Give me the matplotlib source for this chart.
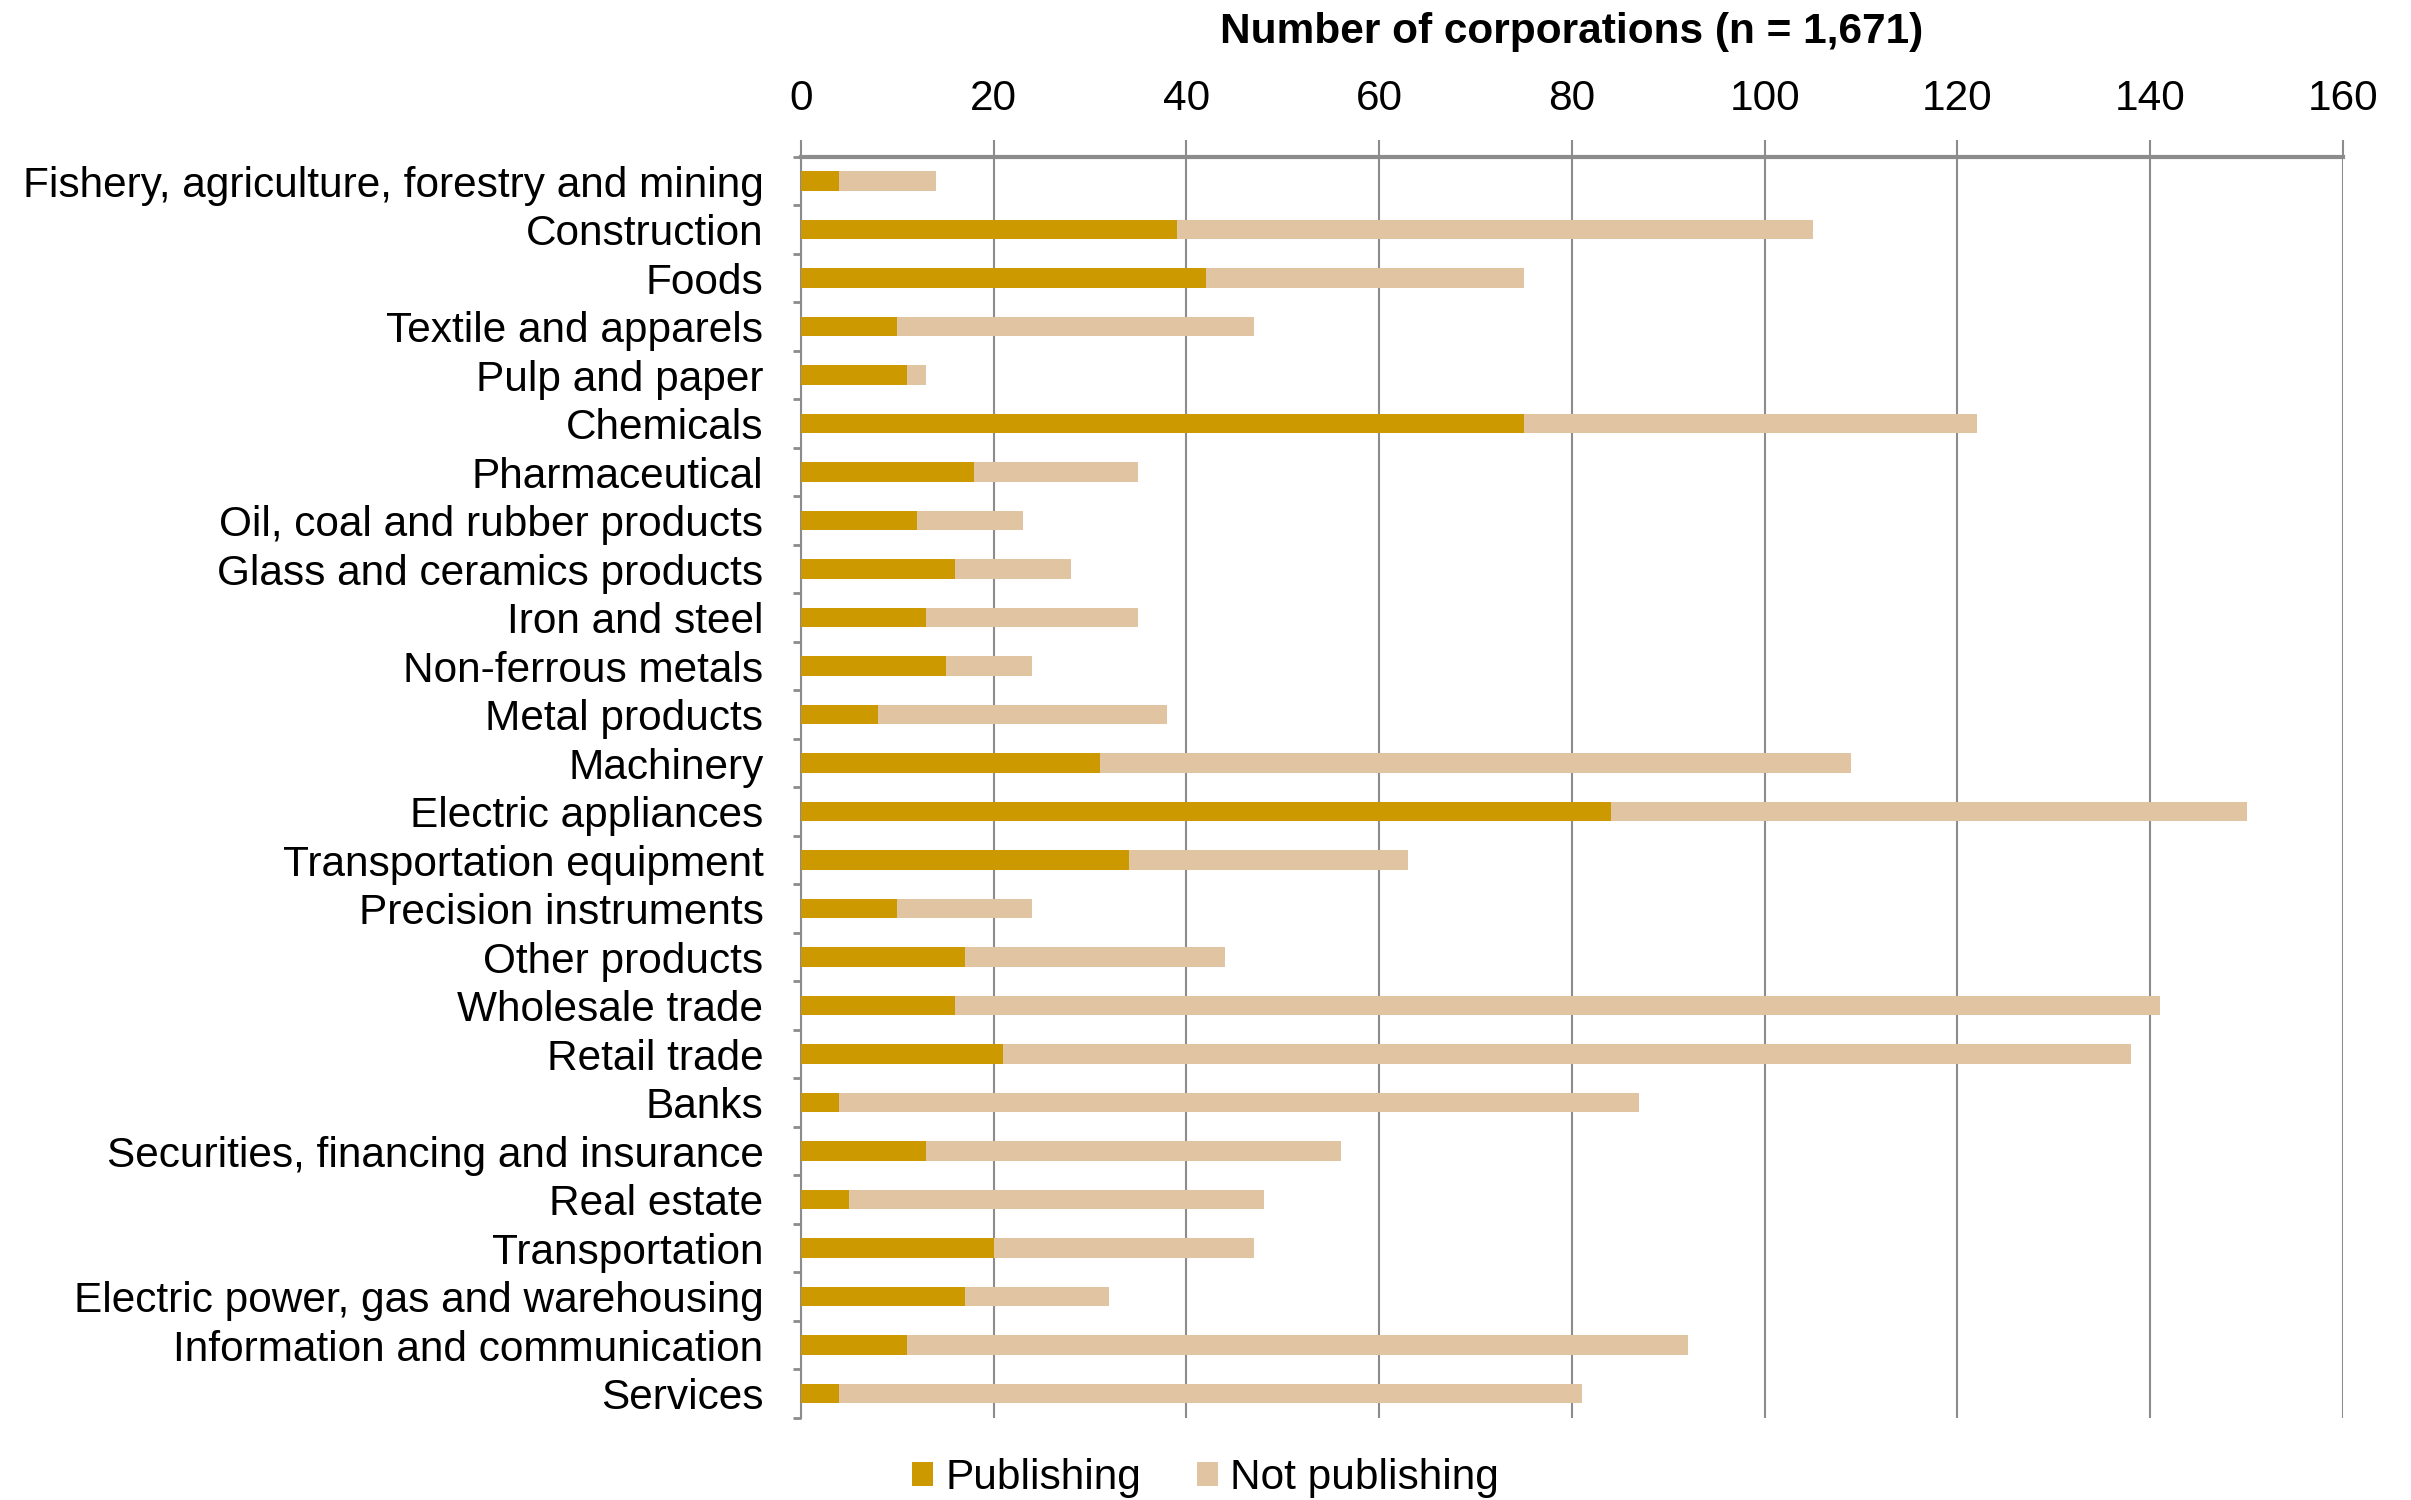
import numpy as np
import matplotlib.pyplot as plt
from matplotlib.ticker import FixedLocator

plt.rcParams['font.family'] = ['Liberation Sans', 'DejaVu Sans']

industries = [
    "Fishery, agriculture, forestry and mining", "Construction", "Foods",
    "Textile and apparels", "Pulp and paper", "Chemicals", "Pharmaceutical",
    "Oil, coal and rubber products", "Glass and ceramics products",
    "Iron and steel", "Non-ferrous metals", "Metal products", "Machinery",
    "Electric appliances", "Transportation equipment", "Precision instruments",
    "Other products", "Wholesale trade", "Retail trade", "Banks",
    "Securities, financing and insurance", "Real estate", "Transportation",
    "Electric power, gas and warehousing", "Information and communication",
    "Services",
]
publishing = [4, 39, 42, 10, 11, 75, 18, 12, 16, 13, 15, 8, 31,
              84, 34, 10, 17, 16, 21, 4, 13, 5, 20, 17, 11, 4]
total = [14, 105, 75, 47, 13, 122, 35, 23, 28, 35, 24, 38, 109,
         150, 63, 24, 44, 141, 138, 87, 56, 48, 47, 32, 92, 81]
not_publishing = [t - p for t, p in zip(total, publishing)]
x_ticks = [0, 20, 40, 60, 80, 100, 120, 140, 160]

col_pub = '#CC9900'
col_not = '#E1C5A2'
grid_col = '#8C8C8C'
fs = 30.5

fig = plt.figure(figsize=(24.11, 15), dpi=100)
ax = fig.add_axes([0.3322, 0.0547, 0.6396, 0.8407])

y = np.arange(len(industries))
ax.barh(y, publishing, height=0.4, color=col_pub, label='Publishing', zorder=3)
ax.barh(y, not_publishing, left=publishing, height=0.4, color=col_not,
        label='Not publishing', zorder=3)

ax.set_ylim(len(industries) - 0.5, -0.5)
ax.set_xlim(0, 160)
ax.set_yticks(y)
ax.set_yticklabels(industries, fontsize=fs)
ax.yaxis.set_minor_locator(FixedLocator(np.arange(-0.5, len(industries), 1.0)))
ax.tick_params(axis='y', which='major', length=0, pad=27)
ax.tick_params(axis='y', which='minor', length=6, width=2, color=grid_col)

ax.xaxis.tick_top()
ax.set_xticks(x_ticks)
ax.tick_params(axis='x', labelsize=fs, length=12, width=1.5, color=grid_col, pad=15)
ax.grid(axis='x', color=grid_col, linewidth=1.5, zorder=0)

for side in ['right', 'bottom']:
    ax.spines[side].set_visible(False)
ax.spines['top'].set_color(grid_col)
ax.spines['top'].set_linewidth(3)
ax.spines['left'].set_color(grid_col)
ax.spines['left'].set_linewidth(1.5)

fig.text(0.652, 0.979, 'Number of corporations (n = 1,671)', fontsize=fs,
         fontweight='bold', ha='center', va='center')

fig.legend(loc='lower center', bbox_to_anchor=(0.5, -0.024), ncol=2,
           frameon=False, fontsize=fs, handlelength=0.5, handleheight=0.5,
           handletextpad=0.3, columnspacing=1.3)

fig.savefig('out.png', dpi=100)
